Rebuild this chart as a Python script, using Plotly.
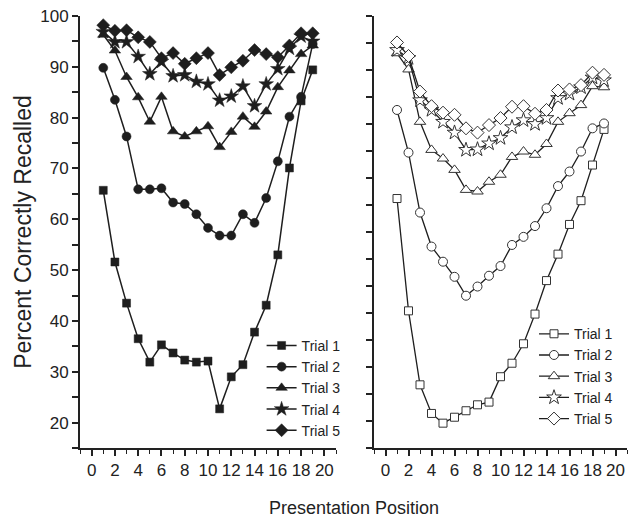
import plotly.graph_objects as go

positions = list(range(1, 20))
trial_names = ["Trial 1", "Trial 2", "Trial 3", "Trial 4", "Trial 5"]

# Left panel (filled markers)
left_t1 = [65.7, 51.6, 43.5, 36.5, 31.9, 35.3, 33.7, 32.3, 31.9, 32.1, 22.7, 29.0, 31.4, 37.8, 43.1, 53.0, 70.1, 83.3, 89.4]
left_t2 = [89.8, 83.5, 76.3, 65.9, 65.9, 66.1, 63.3, 63.0, 61.0, 58.3, 56.8, 56.8, 61.0, 59.3, 64.2, 71.4, 80.2, 84.1, 94.5]
left_t3 = [96.3, 93.2, 88.0, 84.0, 79.2, 84.1, 77.3, 76.3, 77.3, 78.3, 74.2, 77.2, 80.2, 78.2, 81.2, 86.0, 89.3, 92.5, 94.2]
left_t4 = [96.9, 94.9, 94.9, 92.0, 88.6, 91.0, 88.2, 88.4, 87.1, 86.6, 83.4, 84.2, 86.2, 82.3, 86.6, 89.6, 93.6, 96.0, 95.0]
left_t5 = [98.2, 97.1, 97.2, 95.8, 94.9, 91.7, 92.7, 90.6, 91.7, 92.7, 88.4, 89.9, 91.2, 93.3, 92.5, 91.9, 94.2, 96.6, 96.6]

# Right panel (open markers)
right_t1 = [66.2, 45.4, 31.7, 26.4, 24.6, 25.7, 26.9, 28.0, 28.5, 33.2, 35.7, 39.3, 44.8, 51.0, 55.9, 61.4, 65.8, 72.4, 79.0]
right_t2 = [82.6, 74.7, 63.6, 57.3, 54.5, 51.7, 48.2, 49.9, 51.9, 53.7, 57.6, 59.1, 61.1, 64.4, 68.5, 71.2, 74.9, 79.2, 80.1]
right_t3 = [93.1, 90.1, 80.4, 75.2, 73.6, 71.5, 67.8, 67.5, 69.3, 70.6, 73.9, 74.9, 74.3, 76.3, 80.4, 82.0, 83.5, 87.0, 86.8]
right_t4 = [93.7, 92.2, 84.4, 82.6, 80.4, 78.4, 75.2, 75.3, 76.4, 77.4, 79.4, 80.7, 80.0, 81.1, 84.8, 85.6, 86.8, 88.6, 88.1]
right_t5 = [95.1, 92.6, 86.0, 83.3, 82.1, 81.7, 79.2, 78.4, 79.8, 81.1, 83.2, 83.3, 81.9, 82.6, 86.2, 86.4, 87.2, 89.5, 89.1]

x_tick_vals = list(range(0, 21, 2))
y_tick_vals = list(range(20, 101, 10))

symbols = ["square", "circle", "triangle-up", "star", "diamond"]
sizes = [8, 9, 10, 11, 10]
line_col = "#1e1e1e"
font_fam = "Liberation Sans, Arial, sans-serif"

fig = go.Figure()
for name, ys, sym, sz in zip(trial_names, [left_t1, left_t2, left_t3, left_t4, left_t5], symbols, sizes):
    fig.add_trace(go.Scatter(
        x=positions, y=ys, name=name, mode="lines+markers",
        line=dict(color=line_col, width=1.5),
        marker=dict(symbol=sym, size=sz, color=line_col, line=dict(color=line_col, width=0.5)),
        xaxis="x", yaxis="y", legend="legend"))
for name, ys, sym, sz in zip(trial_names, [right_t1, right_t2, right_t3, right_t4, right_t5], symbols, sizes):
    fig.add_trace(go.Scatter(
        x=positions, y=ys, name=name, mode="lines+markers",
        line=dict(color=line_col, width=1.3),
        marker=dict(symbol=sym, size=sz, color="white", line=dict(color="#333", width=1)),
        xaxis="x2", yaxis="y2", legend="legend2"))

axis_common = dict(showline=True, linecolor="#222", linewidth=2, ticks="outside",
                   tickcolor="#222", tickwidth=1.5, ticklen=6, showgrid=False, zeroline=False,
                   tickfont=dict(family=font_fam, size=17, color="#222"))

fig.update_layout(
    width=629, height=523,
    margin=dict(l=80, r=2, t=16, b=75),
    paper_bgcolor="white", plot_bgcolor="white",
    font=dict(family=font_fam, color="#222"),
    xaxis=dict(domain=[0, 0.468], range=[-1, 21], tickvals=x_tick_vals, anchor="y",
               minor=dict(dtick=1, tick0=0, ticks="outside", ticklen=4, tickcolor="#222", tickwidth=1),
               **axis_common),
    yaxis=dict(domain=[0, 1], range=[15, 100], tickvals=y_tick_vals, anchor="x",
               minor=dict(dtick=5, tick0=0, ticks="outside", ticklen=6, tickcolor="#222", tickwidth=1.5),
               title=dict(text="Percent Correctly Recalled", font=dict(size=23, family=font_fam, color="#222"), standoff=2),
               **axis_common),
    xaxis2=dict(domain=[0.5375, 1], range=[-1, 21], tickvals=x_tick_vals, anchor="y2",
                minor=dict(dtick=1, tick0=0, ticks="outside", ticklen=4, tickcolor="#222", tickwidth=1),
                **axis_common),
    yaxis2=dict(domain=[0, 1], range=[20, 100], dtick=5, tick0=0, anchor="x2", showticklabels=False,
                **axis_common),
    legend=dict(x=0.332, y=0.005, xanchor="left", yanchor="bottom", bgcolor="rgba(0,0,0,0)",
                font=dict(size=14, family=font_fam, color="#222"), itemwidth=30, tracegroupgap=0),
    legend2=dict(x=0.83, y=0.032, xanchor="left", yanchor="bottom", bgcolor="rgba(0,0,0,0)",
                 font=dict(size=14, family=font_fam, color="#222"), itemwidth=30, tracegroupgap=0),
    annotations=[dict(text="Presentation Position", x=0.5, y=-0.14, xref="paper", yref="paper",
                      xanchor="center", yanchor="middle", showarrow=False,
                      font=dict(size=18, family=font_fam, color="#222"))],
)

fig.write_html("out.html")
